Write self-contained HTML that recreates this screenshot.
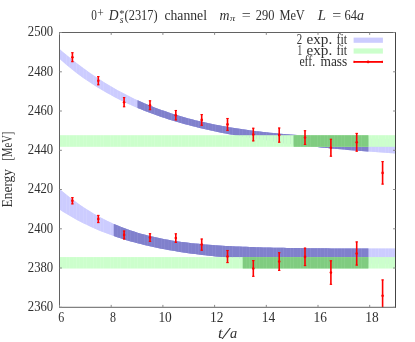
<!DOCTYPE html>
<html><head><meta charset="utf-8"><title>plot</title>
<style>html,body{margin:0;padding:0;background:#fff}svg{display:block}
text{font-family:"Liberation Serif",serif}</style></head>
<body><svg width="415" height="342" viewBox="0 0 415 342">
<rect width="415" height="342" fill="#fff"/>
<g fill="#ccccff"><path d="M59.50,48.98 L62.89,51.89 L62.89,61.85 L59.50,58.85Z"/><path d="M62.89,51.89 L66.29,54.74 L66.29,64.75 L62.89,61.85Z"/><path d="M66.29,54.74 L69.68,57.53 L69.68,67.56 L66.29,64.75Z"/><path d="M69.68,57.53 L73.08,60.25 L73.08,70.28 L69.68,67.56Z"/><path d="M73.08,60.25 L76.47,62.91 L76.47,72.90 L73.08,70.28Z"/><path d="M76.47,62.91 L79.86,65.51 L79.86,75.44 L76.47,72.90Z"/><path d="M79.86,65.51 L83.26,68.04 L83.26,77.90 L79.86,75.44Z"/><path d="M83.26,68.04 L86.65,70.51 L86.65,80.27 L83.26,77.90Z"/><path d="M86.65,70.51 L90.05,72.91 L90.05,82.57 L86.65,80.27Z"/><path d="M90.05,72.91 L93.44,75.25 L93.44,84.79 L90.05,82.57Z"/><path d="M93.44,75.25 L96.83,77.53 L96.83,86.94 L93.44,84.79Z"/><path d="M96.83,77.53 L100.23,79.75 L100.23,89.02 L96.83,86.94Z"/><path d="M100.23,79.75 L103.62,81.90 L103.62,91.04 L100.23,89.02Z"/><path d="M103.62,81.90 L107.02,83.99 L107.02,92.98 L103.62,91.04Z"/><path d="M107.02,83.99 L110.41,86.03 L110.41,94.87 L107.02,92.98Z"/><path d="M110.41,86.03 L113.80,88.00 L113.80,96.69 L110.41,94.87Z"/><path d="M113.80,88.00 L117.20,89.91 L117.20,98.46 L113.80,96.69Z"/><path d="M117.20,89.91 L120.59,91.77 L120.59,100.17 L117.20,98.46Z"/><path d="M120.59,91.77 L123.98,93.57 L123.98,101.82 L120.59,100.17Z"/><path d="M123.98,93.57 L127.38,95.31 L127.38,103.42 L123.98,101.82Z"/><path d="M127.38,95.31 L130.77,97.00 L130.77,104.98 L127.38,103.42Z"/><path d="M130.77,97.00 L134.17,98.64 L134.17,106.48 L130.77,104.98Z"/><path d="M134.17,98.64 L137.56,100.22 L137.56,107.93 L134.17,106.48Z"/><path d="M137.56,100.22 L140.95,101.75 L140.95,109.34 L137.56,107.93Z"/><path d="M140.95,101.75 L144.35,103.23 L144.35,110.71 L140.95,109.34Z"/><path d="M144.35,103.23 L147.74,104.66 L147.74,112.03 L144.35,110.71Z"/><path d="M147.74,104.66 L151.14,106.04 L151.14,113.31 L147.74,112.03Z"/><path d="M151.14,106.04 L154.53,107.38 L154.53,114.55 L151.14,113.31Z"/><path d="M154.53,107.38 L157.92,108.67 L157.92,115.76 L154.53,114.55Z"/><path d="M157.92,108.67 L161.32,109.91 L161.32,116.92 L157.92,115.76Z"/><path d="M161.32,109.91 L164.71,111.12 L164.71,118.05 L161.32,116.92Z"/><path d="M164.71,111.12 L168.11,112.28 L168.11,119.15 L164.71,118.05Z"/><path d="M168.11,112.28 L171.50,113.39 L171.50,120.22 L168.11,119.15Z"/><path d="M171.50,113.39 L174.89,114.47 L174.89,121.25 L171.50,120.22Z"/><path d="M174.89,114.47 L178.29,115.51 L178.29,122.25 L174.89,121.25Z"/><path d="M178.29,115.51 L181.68,116.52 L181.68,123.22 L178.29,122.25Z"/><path d="M181.68,116.52 L185.08,117.48 L185.08,124.16 L181.68,123.22Z"/><path d="M185.08,117.48 L188.47,118.41 L188.47,125.08 L185.08,124.16Z"/><path d="M188.47,118.41 L191.86,119.31 L191.86,125.96 L188.47,125.08Z"/><path d="M191.86,119.31 L195.26,120.17 L195.26,126.83 L191.86,125.96Z"/><path d="M195.26,120.17 L198.65,121.00 L198.65,127.66 L195.26,126.83Z"/><path d="M198.65,121.00 L202.05,121.80 L202.05,128.48 L198.65,127.66Z"/><path d="M202.05,121.80 L205.44,122.57 L205.44,129.26 L202.05,128.48Z"/><path d="M205.44,122.57 L208.83,123.31 L208.83,130.03 L205.44,129.26Z"/><path d="M208.83,123.31 L212.23,124.03 L212.23,130.78 L208.83,130.03Z"/><path d="M212.23,124.03 L215.62,124.71 L215.62,131.50 L212.23,130.78Z"/><path d="M215.62,124.71 L219.02,125.37 L219.02,132.21 L215.62,131.50Z"/><path d="M219.02,125.37 L222.41,126.01 L222.41,132.89 L219.02,132.21Z"/><path d="M222.41,126.01 L225.80,126.62 L225.80,133.56 L222.41,132.89Z"/><path d="M225.80,126.62 L229.20,127.20 L229.20,134.20 L225.80,133.56Z"/><path d="M229.20,127.20 L232.59,127.77 L232.59,134.83 L229.20,134.20Z"/><path d="M232.59,127.77 L235.98,128.31 L235.98,135.45 L232.59,134.83Z"/><path d="M235.98,128.31 L239.38,128.83 L239.38,136.05 L235.98,135.45Z"/><path d="M239.38,128.83 L242.77,129.33 L242.77,136.63 L239.38,136.05Z"/><path d="M242.77,129.33 L246.17,129.81 L246.17,137.19 L242.77,136.63Z"/><path d="M246.17,129.81 L249.56,130.27 L249.56,137.74 L246.17,137.19Z"/><path d="M249.56,130.27 L252.95,130.71 L252.95,138.28 L249.56,137.74Z"/><path d="M252.95,130.71 L256.35,131.14 L256.35,138.81 L252.95,138.28Z"/><path d="M256.35,131.14 L259.74,131.55 L259.74,139.32 L256.35,138.81Z"/><path d="M259.74,131.55 L263.14,131.94 L263.14,139.81 L259.74,139.32Z"/><path d="M263.14,131.94 L266.53,132.32 L266.53,140.30 L263.14,139.81Z"/><path d="M266.53,132.32 L269.92,132.68 L269.92,140.77 L266.53,140.30Z"/><path d="M269.92,132.68 L273.32,133.02 L273.32,141.24 L269.92,140.77Z"/><path d="M273.32,133.02 L276.71,133.36 L276.71,142.39 L273.32,141.24Z"/><path d="M276.71,133.36 L280.11,133.68 L280.11,142.83 L276.71,142.39Z"/><path d="M280.11,133.68 L283.50,133.98 L283.50,143.26 L280.11,142.83Z"/><path d="M283.50,133.98 L286.89,134.28 L286.89,143.68 L283.50,143.26Z"/><path d="M286.89,134.28 L290.29,134.56 L290.29,144.09 L286.89,143.68Z"/><path d="M290.29,134.56 L293.68,134.83 L293.68,144.49 L290.29,144.09Z"/><path d="M293.68,134.83 L297.08,135.09 L297.08,144.88 L293.68,144.49Z"/><path d="M297.08,135.09 L300.47,135.34 L300.47,145.27 L297.08,144.88Z"/><path d="M300.47,135.34 L303.86,135.58 L303.86,145.64 L300.47,145.27Z"/><path d="M303.86,135.58 L307.26,135.81 L307.26,146.01 L303.86,145.64Z"/><path d="M307.26,135.81 L310.65,136.03 L310.65,146.37 L307.26,146.01Z"/><path d="M310.65,136.03 L314.05,136.24 L314.05,146.72 L310.65,146.37Z"/><path d="M314.05,136.24 L317.44,136.45 L317.44,147.07 L314.05,146.72Z"/><path d="M317.44,136.45 L320.83,136.64 L320.83,147.41 L317.44,147.07Z"/><path d="M320.83,136.64 L324.23,136.83 L324.23,147.74 L320.83,147.41Z"/><path d="M324.23,136.83 L327.62,137.01 L327.62,148.06 L324.23,147.74Z"/><path d="M327.62,137.01 L331.02,137.18 L331.02,148.38 L327.62,148.06Z"/><path d="M331.02,137.18 L334.41,137.34 L334.41,148.70 L331.02,148.38Z"/><path d="M334.41,137.34 L337.80,137.50 L337.80,149.00 L334.41,148.70Z"/><path d="M337.80,137.50 L341.20,137.65 L341.20,149.31 L337.80,149.00Z"/><path d="M341.20,137.65 L344.59,137.80 L344.59,149.60 L341.20,149.31Z"/><path d="M344.59,137.80 L347.98,137.93 L347.98,149.89 L344.59,149.60Z"/><path d="M347.98,137.93 L351.38,138.07 L351.38,150.18 L347.98,149.89Z"/><path d="M351.38,138.07 L354.77,138.20 L354.77,150.46 L351.38,150.18Z"/><path d="M354.77,138.20 L358.17,138.32 L358.17,150.73 L354.77,150.46Z"/><path d="M358.17,138.32 L361.56,138.44 L361.56,151.01 L358.17,150.73Z"/><path d="M361.56,138.44 L364.95,138.55 L364.95,151.27 L361.56,151.01Z"/><path d="M364.95,138.55 L368.35,138.66 L368.35,151.54 L364.95,151.27Z"/><path d="M368.35,138.66 L371.74,138.76 L371.74,151.80 L368.35,151.54Z"/><path d="M371.74,138.76 L375.14,138.86 L375.14,152.05 L371.74,151.80Z"/><path d="M375.14,138.86 L378.53,138.95 L378.53,152.30 L375.14,152.05Z"/><path d="M378.53,138.95 L381.92,139.04 L381.92,152.55 L378.53,152.30Z"/><path d="M381.92,139.04 L385.32,139.13 L385.32,152.79 L381.92,152.55Z"/><path d="M385.32,139.13 L388.71,139.22 L388.71,153.03 L385.32,152.79Z"/><path d="M388.71,139.22 L392.11,139.30 L392.11,153.27 L388.71,153.03Z"/><path d="M392.11,139.30 L395.50,139.37 L395.50,153.50 L392.11,153.27Z"/></g>
<path d="M59.50,48.98 L62.89,51.89 L66.29,54.74 L69.68,57.53 L73.08,60.25 L76.47,62.91 L79.86,65.51 L83.26,68.04 L86.65,70.51 L90.05,72.91 L93.44,75.25 L96.83,77.53 L100.23,79.75 L103.62,81.90 L107.02,83.99 L110.41,86.03 L113.80,88.00 L117.20,89.91 L120.59,91.77 L123.98,93.57 L127.38,95.31 L130.77,97.00 L134.17,98.64 L137.56,100.22 L140.95,101.75 L144.35,103.23 L147.74,104.66 L151.14,106.04 L154.53,107.38 L157.92,108.67 L161.32,109.91 L164.71,111.12 L168.11,112.28 L171.50,113.39 L174.89,114.47 L178.29,115.51 L181.68,116.52 L185.08,117.48 L188.47,118.41 L191.86,119.31 L195.26,120.17 L198.65,121.00 L202.05,121.80 L205.44,122.57 L208.83,123.31 L212.23,124.03 L215.62,124.71 L219.02,125.37 L222.41,126.01 L225.80,126.62 L229.20,127.20 L232.59,127.77 L235.98,128.31 L239.38,128.83 L242.77,129.33 L246.17,129.81 L249.56,130.27 L252.95,130.71 L256.35,131.14 L259.74,131.55 L263.14,131.94 L266.53,132.32 L269.92,132.68 L273.32,133.02 L276.71,133.36 L280.11,133.68 L283.50,133.98 L286.89,134.28 L290.29,134.56 L293.68,134.83 L297.08,135.09 L300.47,135.34 L303.86,135.58 L307.26,135.81 L310.65,136.03 L314.05,136.24 L317.44,136.45 L320.83,136.64 L324.23,136.83 L327.62,137.01 L331.02,137.18 L334.41,137.34 L337.80,137.50 L341.20,137.65 L344.59,137.80 L347.98,137.93 L351.38,138.07 L354.77,138.20 L358.17,138.32 L361.56,138.44 L364.95,138.55 L368.35,138.66 L371.74,138.76 L375.14,138.86 L378.53,138.95 L381.92,139.04 L385.32,139.13 L388.71,139.22 L392.11,139.30 L395.50,139.37 L395.50,153.50 L392.11,153.27 L388.71,153.03 L385.32,152.79 L381.92,152.55 L378.53,152.30 L375.14,152.05 L371.74,151.80 L368.35,151.54 L364.95,151.27 L361.56,151.01 L358.17,150.73 L354.77,150.46 L351.38,150.18 L347.98,149.89 L344.59,149.60 L341.20,149.31 L337.80,149.00 L334.41,148.70 L331.02,148.38 L327.62,148.06 L324.23,147.74 L320.83,147.41 L317.44,147.07 L314.05,146.72 L310.65,146.37 L307.26,146.01 L303.86,145.64 L300.47,145.27 L297.08,144.88 L293.68,144.49 L290.29,144.09 L286.89,143.68 L283.50,143.26 L280.11,142.83 L276.71,142.39 L273.32,141.24 L269.92,140.77 L266.53,140.30 L263.14,139.81 L259.74,139.32 L256.35,138.81 L252.95,138.28 L249.56,137.74 L246.17,137.19 L242.77,136.63 L239.38,136.05 L235.98,135.45 L232.59,134.83 L229.20,134.20 L225.80,133.56 L222.41,132.89 L219.02,132.21 L215.62,131.50 L212.23,130.78 L208.83,130.03 L205.44,129.26 L202.05,128.48 L198.65,127.66 L195.26,126.83 L191.86,125.96 L188.47,125.08 L185.08,124.16 L181.68,123.22 L178.29,122.25 L174.89,121.25 L171.50,120.22 L168.11,119.15 L164.71,118.05 L161.32,116.92 L157.92,115.76 L154.53,114.55 L151.14,113.31 L147.74,112.03 L144.35,110.71 L140.95,109.34 L137.56,107.93 L134.17,106.48 L130.77,104.98 L127.38,103.42 L123.98,101.82 L120.59,100.17 L117.20,98.46 L113.80,96.69 L110.41,94.87 L107.02,92.98 L103.62,91.04 L100.23,89.02 L96.83,86.94 L93.44,84.79 L90.05,82.57 L86.65,80.27 L83.26,77.90 L79.86,75.44 L76.47,72.90 L73.08,70.28 L69.68,67.56 L66.29,64.75 L62.89,61.85 L59.50,58.85 Z" fill="#ccccff" fill-opacity="0.55"/>
<g fill="#8080cc"><path d="M137.56,100.22 L140.95,101.75 L140.95,109.34 L137.56,107.93Z"/><path d="M140.95,101.75 L144.35,103.23 L144.35,110.71 L140.95,109.34Z"/><path d="M144.35,103.23 L147.74,104.66 L147.74,112.03 L144.35,110.71Z"/><path d="M147.74,104.66 L151.14,106.04 L151.14,113.31 L147.74,112.03Z"/><path d="M151.14,106.04 L154.53,107.38 L154.53,114.55 L151.14,113.31Z"/><path d="M154.53,107.38 L157.92,108.67 L157.92,115.76 L154.53,114.55Z"/><path d="M157.92,108.67 L161.32,109.91 L161.32,116.92 L157.92,115.76Z"/><path d="M161.32,109.91 L164.71,111.12 L164.71,118.05 L161.32,116.92Z"/><path d="M164.71,111.12 L168.11,112.28 L168.11,119.15 L164.71,118.05Z"/><path d="M168.11,112.28 L171.50,113.39 L171.50,120.22 L168.11,119.15Z"/><path d="M171.50,113.39 L174.89,114.47 L174.89,121.25 L171.50,120.22Z"/><path d="M174.89,114.47 L178.29,115.51 L178.29,122.25 L174.89,121.25Z"/><path d="M178.29,115.51 L181.68,116.52 L181.68,123.22 L178.29,122.25Z"/><path d="M181.68,116.52 L185.08,117.48 L185.08,124.16 L181.68,123.22Z"/><path d="M185.08,117.48 L188.47,118.41 L188.47,125.08 L185.08,124.16Z"/><path d="M188.47,118.41 L191.86,119.31 L191.86,125.96 L188.47,125.08Z"/><path d="M191.86,119.31 L195.26,120.17 L195.26,126.83 L191.86,125.96Z"/><path d="M195.26,120.17 L198.65,121.00 L198.65,127.66 L195.26,126.83Z"/><path d="M198.65,121.00 L202.05,121.80 L202.05,128.48 L198.65,127.66Z"/><path d="M202.05,121.80 L205.44,122.57 L205.44,129.26 L202.05,128.48Z"/><path d="M205.44,122.57 L208.83,123.31 L208.83,130.03 L205.44,129.26Z"/><path d="M208.83,123.31 L212.23,124.03 L212.23,130.78 L208.83,130.03Z"/><path d="M212.23,124.03 L215.62,124.71 L215.62,131.50 L212.23,130.78Z"/><path d="M215.62,124.71 L219.02,125.37 L219.02,132.21 L215.62,131.50Z"/><path d="M219.02,125.37 L222.41,126.01 L222.41,132.89 L219.02,132.21Z"/><path d="M222.41,126.01 L225.80,126.62 L225.80,133.56 L222.41,132.89Z"/><path d="M225.80,126.62 L229.20,127.20 L229.20,134.20 L225.80,133.56Z"/><path d="M229.20,127.20 L232.59,127.77 L232.59,134.83 L229.20,134.20Z"/><path d="M232.59,127.77 L235.98,128.31 L235.98,135.45 L232.59,134.83Z"/><path d="M235.98,128.31 L239.38,128.83 L239.38,136.05 L235.98,135.45Z"/><path d="M239.38,128.83 L242.77,129.33 L242.77,136.63 L239.38,136.05Z"/><path d="M242.77,129.33 L246.17,129.81 L246.17,137.19 L242.77,136.63Z"/><path d="M246.17,129.81 L249.56,130.27 L249.56,137.74 L246.17,137.19Z"/><path d="M249.56,130.27 L252.95,130.71 L252.95,138.28 L249.56,137.74Z"/><path d="M252.95,130.71 L256.35,131.14 L256.35,138.81 L252.95,138.28Z"/><path d="M256.35,131.14 L259.74,131.55 L259.74,139.32 L256.35,138.81Z"/><path d="M259.74,131.55 L263.14,131.94 L263.14,139.81 L259.74,139.32Z"/><path d="M263.14,131.94 L266.53,132.32 L266.53,140.30 L263.14,139.81Z"/><path d="M266.53,132.32 L269.92,132.68 L269.92,140.77 L266.53,140.30Z"/><path d="M269.92,132.68 L273.32,133.02 L273.32,141.24 L269.92,140.77Z"/><path d="M273.32,133.02 L276.71,133.36 L276.71,142.39 L273.32,141.24Z"/><path d="M276.71,133.36 L280.11,133.68 L280.11,142.83 L276.71,142.39Z"/><path d="M280.11,133.68 L283.50,133.98 L283.50,143.26 L280.11,142.83Z"/><path d="M283.50,133.98 L286.89,134.28 L286.89,143.68 L283.50,143.26Z"/><path d="M286.89,134.28 L290.29,134.56 L290.29,144.09 L286.89,143.68Z"/><path d="M290.29,134.56 L293.68,134.83 L293.68,144.49 L290.29,144.09Z"/><path d="M293.68,134.83 L297.08,135.09 L297.08,144.88 L293.68,144.49Z"/><path d="M297.08,135.09 L300.47,135.34 L300.47,145.27 L297.08,144.88Z"/><path d="M300.47,135.34 L303.86,135.58 L303.86,145.64 L300.47,145.27Z"/><path d="M303.86,135.58 L307.26,135.81 L307.26,146.01 L303.86,145.64Z"/><path d="M307.26,135.81 L310.65,136.03 L310.65,146.37 L307.26,146.01Z"/><path d="M310.65,136.03 L314.05,136.24 L314.05,146.72 L310.65,146.37Z"/><path d="M314.05,136.24 L317.44,136.45 L317.44,147.07 L314.05,146.72Z"/><path d="M317.44,136.45 L320.83,136.64 L320.83,147.41 L317.44,147.07Z"/><path d="M320.83,136.64 L324.23,136.83 L324.23,147.74 L320.83,147.41Z"/><path d="M324.23,136.83 L327.62,137.01 L327.62,148.06 L324.23,147.74Z"/><path d="M327.62,137.01 L331.02,137.18 L331.02,148.38 L327.62,148.06Z"/><path d="M331.02,137.18 L334.41,137.34 L334.41,148.70 L331.02,148.38Z"/><path d="M334.41,137.34 L337.80,137.50 L337.80,149.00 L334.41,148.70Z"/><path d="M337.80,137.50 L341.20,137.65 L341.20,149.31 L337.80,149.00Z"/><path d="M341.20,137.65 L344.59,137.80 L344.59,149.60 L341.20,149.31Z"/><path d="M344.59,137.80 L347.98,137.93 L347.98,149.89 L344.59,149.60Z"/><path d="M347.98,137.93 L351.38,138.07 L351.38,150.18 L347.98,149.89Z"/><path d="M351.38,138.07 L354.77,138.20 L354.77,150.46 L351.38,150.18Z"/><path d="M354.77,138.20 L358.17,138.32 L358.17,150.73 L354.77,150.46Z"/><path d="M358.17,138.32 L361.56,138.44 L361.56,151.01 L358.17,150.73Z"/><path d="M361.56,138.44 L364.95,138.55 L364.95,151.27 L361.56,151.01Z"/><path d="M364.95,138.55 L368.35,138.66 L368.35,151.54 L364.95,151.27Z"/></g>
<path d="M137.56,100.22 L140.95,101.75 L144.35,103.23 L147.74,104.66 L151.14,106.04 L154.53,107.38 L157.92,108.67 L161.32,109.91 L164.71,111.12 L168.11,112.28 L171.50,113.39 L174.89,114.47 L178.29,115.51 L181.68,116.52 L185.08,117.48 L188.47,118.41 L191.86,119.31 L195.26,120.17 L198.65,121.00 L202.05,121.80 L205.44,122.57 L208.83,123.31 L212.23,124.03 L215.62,124.71 L219.02,125.37 L222.41,126.01 L225.80,126.62 L229.20,127.20 L232.59,127.77 L235.98,128.31 L239.38,128.83 L242.77,129.33 L246.17,129.81 L249.56,130.27 L252.95,130.71 L256.35,131.14 L259.74,131.55 L263.14,131.94 L266.53,132.32 L269.92,132.68 L273.32,133.02 L276.71,133.36 L280.11,133.68 L283.50,133.98 L286.89,134.28 L290.29,134.56 L293.68,134.83 L297.08,135.09 L300.47,135.34 L303.86,135.58 L307.26,135.81 L310.65,136.03 L314.05,136.24 L317.44,136.45 L320.83,136.64 L324.23,136.83 L327.62,137.01 L331.02,137.18 L334.41,137.34 L337.80,137.50 L341.20,137.65 L344.59,137.80 L347.98,137.93 L351.38,138.07 L354.77,138.20 L358.17,138.32 L361.56,138.44 L364.95,138.55 L368.35,138.66 L368.35,151.54 L364.95,151.27 L361.56,151.01 L358.17,150.73 L354.77,150.46 L351.38,150.18 L347.98,149.89 L344.59,149.60 L341.20,149.31 L337.80,149.00 L334.41,148.70 L331.02,148.38 L327.62,148.06 L324.23,147.74 L320.83,147.41 L317.44,147.07 L314.05,146.72 L310.65,146.37 L307.26,146.01 L303.86,145.64 L300.47,145.27 L297.08,144.88 L293.68,144.49 L290.29,144.09 L286.89,143.68 L283.50,143.26 L280.11,142.83 L276.71,142.39 L273.32,141.24 L269.92,140.77 L266.53,140.30 L263.14,139.81 L259.74,139.32 L256.35,138.81 L252.95,138.28 L249.56,137.74 L246.17,137.19 L242.77,136.63 L239.38,136.05 L235.98,135.45 L232.59,134.83 L229.20,134.20 L225.80,133.56 L222.41,132.89 L219.02,132.21 L215.62,131.50 L212.23,130.78 L208.83,130.03 L205.44,129.26 L202.05,128.48 L198.65,127.66 L195.26,126.83 L191.86,125.96 L188.47,125.08 L185.08,124.16 L181.68,123.22 L178.29,122.25 L174.89,121.25 L171.50,120.22 L168.11,119.15 L164.71,118.05 L161.32,116.92 L157.92,115.76 L154.53,114.55 L151.14,113.31 L147.74,112.03 L144.35,110.71 L140.95,109.34 L137.56,107.93 Z" fill="#8080cc" fill-opacity="0.55"/>
<g fill="#ccccff"><path d="M59.50,189.03 L62.89,191.84 L62.89,211.68 L59.50,209.48Z"/><path d="M62.89,191.84 L66.29,194.57 L66.29,213.80 L62.89,211.68Z"/><path d="M66.29,194.57 L69.68,197.22 L69.68,215.83 L66.29,213.80Z"/><path d="M69.68,197.22 L73.08,199.79 L73.08,217.79 L69.68,215.83Z"/><path d="M73.08,199.79 L76.47,202.27 L76.47,219.66 L73.08,217.79Z"/><path d="M76.47,202.27 L79.86,204.67 L79.86,221.47 L76.47,219.66Z"/><path d="M79.86,204.67 L83.26,206.98 L83.26,223.20 L79.86,221.47Z"/><path d="M83.26,206.98 L86.65,209.21 L86.65,224.87 L83.26,223.20Z"/><path d="M86.65,209.21 L90.05,211.34 L90.05,226.47 L86.65,224.87Z"/><path d="M90.05,211.34 L93.44,213.39 L93.44,228.01 L90.05,226.47Z"/><path d="M93.44,213.39 L96.83,215.35 L96.83,229.49 L93.44,228.01Z"/><path d="M96.83,215.35 L100.23,217.22 L100.23,230.91 L96.83,229.49Z"/><path d="M100.23,217.22 L103.62,219.01 L103.62,232.27 L100.23,230.91Z"/><path d="M103.62,219.01 L107.02,220.72 L107.02,233.58 L103.62,232.27Z"/><path d="M107.02,220.72 L110.41,222.34 L110.41,234.84 L107.02,233.58Z"/><path d="M110.41,222.34 L113.80,223.89 L113.80,236.05 L110.41,234.84Z"/><path d="M113.80,223.89 L117.20,225.35 L117.20,237.20 L113.80,236.05Z"/><path d="M117.20,225.35 L120.59,226.75 L120.59,238.32 L117.20,237.20Z"/><path d="M120.59,226.75 L123.98,228.06 L123.98,239.39 L120.59,238.32Z"/><path d="M123.98,228.06 L127.38,229.31 L127.38,240.41 L123.98,239.39Z"/><path d="M127.38,229.31 L130.77,230.50 L130.77,241.40 L127.38,240.41Z"/><path d="M130.77,230.50 L134.17,231.61 L134.17,242.34 L130.77,241.40Z"/><path d="M134.17,231.61 L137.56,232.67 L137.56,243.25 L134.17,242.34Z"/><path d="M137.56,232.67 L140.95,233.67 L140.95,244.12 L137.56,243.25Z"/><path d="M140.95,233.67 L144.35,234.61 L144.35,244.95 L140.95,244.12Z"/><path d="M144.35,234.61 L147.74,235.49 L147.74,245.76 L144.35,244.95Z"/><path d="M147.74,235.49 L151.14,236.32 L151.14,246.53 L147.74,245.76Z"/><path d="M151.14,236.32 L154.53,237.11 L154.53,247.26 L151.14,246.53Z"/><path d="M154.53,237.11 L157.92,237.85 L157.92,247.97 L154.53,247.26Z"/><path d="M157.92,237.85 L161.32,238.54 L161.32,248.65 L157.92,247.97Z"/><path d="M161.32,238.54 L164.71,239.19 L164.71,249.31 L161.32,248.65Z"/><path d="M164.71,239.19 L168.11,239.80 L168.11,249.93 L164.71,249.31Z"/><path d="M168.11,239.80 L171.50,240.38 L171.50,250.53 L168.11,249.93Z"/><path d="M171.50,240.38 L174.89,240.92 L174.89,251.11 L171.50,250.53Z"/><path d="M174.89,240.92 L178.29,241.42 L178.29,251.66 L174.89,251.11Z"/><path d="M178.29,241.42 L181.68,241.90 L181.68,252.19 L178.29,251.66Z"/><path d="M181.68,241.90 L185.08,242.34 L185.08,252.70 L181.68,252.19Z"/><path d="M185.08,242.34 L188.47,242.76 L188.47,253.19 L185.08,252.70Z"/><path d="M188.47,242.76 L191.86,243.15 L191.86,253.66 L188.47,253.19Z"/><path d="M191.86,243.15 L195.26,243.51 L195.26,254.11 L191.86,253.66Z"/><path d="M195.26,243.51 L198.65,243.85 L198.65,254.54 L195.26,254.11Z"/><path d="M198.65,243.85 L202.05,244.17 L202.05,254.95 L198.65,254.54Z"/><path d="M202.05,244.17 L205.44,244.47 L205.44,255.35 L202.05,254.95Z"/><path d="M205.44,244.47 L208.83,244.75 L208.83,255.73 L205.44,255.35Z"/><path d="M208.83,244.75 L212.23,245.01 L212.23,256.09 L208.83,255.73Z"/><path d="M212.23,245.01 L215.62,245.26 L215.62,256.44 L212.23,256.09Z"/><path d="M215.62,245.26 L219.02,245.49 L219.02,256.78 L215.62,256.44Z"/><path d="M219.02,245.49 L222.41,245.70 L222.41,257.10 L219.02,256.78Z"/><path d="M222.41,245.70 L225.80,245.90 L225.80,257.41 L222.41,257.10Z"/><path d="M225.80,245.90 L229.20,246.09 L229.20,257.70 L225.80,257.41Z"/><path d="M229.20,246.09 L232.59,246.26 L232.59,257.99 L229.20,257.70Z"/><path d="M232.59,246.26 L235.98,246.42 L235.98,258.26 L232.59,257.99Z"/><path d="M235.98,246.42 L239.38,246.58 L239.38,258.52 L235.98,258.26Z"/><path d="M239.38,246.58 L242.77,246.72 L242.77,258.77 L239.38,258.52Z"/><path d="M242.77,246.72 L246.17,246.85 L246.17,259.01 L242.77,258.77Z"/><path d="M246.17,246.85 L249.56,246.97 L249.56,259.24 L246.17,259.01Z"/><path d="M249.56,246.97 L252.95,247.09 L252.95,259.46 L249.56,259.24Z"/><path d="M252.95,247.09 L256.35,247.20 L256.35,259.67 L252.95,259.46Z"/><path d="M256.35,247.20 L259.74,247.30 L259.74,259.88 L256.35,259.67Z"/><path d="M259.74,247.30 L263.14,247.39 L263.14,260.07 L259.74,259.88Z"/><path d="M263.14,247.39 L266.53,247.48 L266.53,260.26 L263.14,260.07Z"/><path d="M266.53,247.48 L269.92,247.56 L269.92,260.44 L266.53,260.26Z"/><path d="M269.92,247.56 L273.32,247.64 L273.32,260.61 L269.92,260.44Z"/><path d="M273.32,247.64 L276.71,247.71 L276.71,260.77 L273.32,260.61Z"/><path d="M276.71,247.71 L280.11,247.78 L280.11,260.93 L276.71,260.77Z"/><path d="M280.11,247.78 L283.50,247.84 L283.50,261.08 L280.11,260.93Z"/><path d="M283.50,247.84 L286.89,247.90 L286.89,261.23 L283.50,261.08Z"/><path d="M286.89,247.90 L290.29,247.95 L290.29,261.37 L286.89,261.23Z"/><path d="M290.29,247.95 L293.68,248.00 L293.68,261.50 L290.29,261.37Z"/><path d="M293.68,248.00 L297.08,248.05 L297.08,261.63 L293.68,261.50Z"/><path d="M297.08,248.05 L300.47,248.09 L300.47,261.75 L297.08,261.63Z"/><path d="M300.47,248.09 L303.86,248.13 L303.86,261.87 L300.47,261.75Z"/><path d="M303.86,248.13 L307.26,248.17 L307.26,261.98 L303.86,261.87Z"/><path d="M307.26,248.17 L310.65,248.21 L310.65,262.09 L307.26,261.98Z"/><path d="M310.65,248.21 L314.05,248.24 L314.05,262.20 L310.65,262.09Z"/><path d="M314.05,248.24 L317.44,248.27 L317.44,262.29 L314.05,262.20Z"/><path d="M317.44,248.27 L320.83,248.30 L320.83,262.39 L317.44,262.29Z"/><path d="M320.83,248.30 L324.23,248.33 L324.23,262.48 L320.83,262.39Z"/><path d="M324.23,248.33 L327.62,248.35 L327.62,262.57 L324.23,262.48Z"/><path d="M327.62,248.35 L331.02,248.38 L331.02,262.65 L327.62,262.57Z"/><path d="M331.02,248.38 L334.41,248.40 L334.41,262.73 L331.02,262.65Z"/><path d="M334.41,248.40 L337.80,248.42 L337.80,262.81 L334.41,262.73Z"/><path d="M337.80,248.42 L341.20,248.44 L341.20,262.89 L337.80,262.81Z"/><path d="M341.20,248.44 L344.59,248.45 L344.59,262.96 L341.20,262.89Z"/><path d="M344.59,248.45 L347.98,248.47 L347.98,263.02 L344.59,262.96Z"/><path d="M347.98,248.47 L351.38,248.49 L351.38,263.09 L347.98,263.02Z"/><path d="M351.38,248.49 L354.77,248.50 L354.77,263.15 L351.38,263.09Z"/><path d="M354.77,248.50 L358.17,248.51 L358.17,263.21 L354.77,263.15Z"/><path d="M358.17,248.51 L361.56,248.53 L361.56,263.27 L358.17,263.21Z"/><path d="M361.56,248.53 L364.95,248.54 L364.95,263.32 L361.56,263.27Z"/><path d="M364.95,248.54 L368.35,248.55 L368.35,263.38 L364.95,263.32Z"/><path d="M368.35,248.55 L371.74,248.56 L371.74,263.43 L368.35,263.38Z"/><path d="M371.74,248.56 L375.14,248.57 L375.14,263.48 L371.74,263.43Z"/><path d="M375.14,248.57 L378.53,248.58 L378.53,263.52 L375.14,263.48Z"/><path d="M378.53,248.58 L381.92,248.59 L381.92,263.57 L378.53,263.52Z"/><path d="M381.92,248.59 L385.32,248.59 L385.32,263.61 L381.92,263.57Z"/><path d="M385.32,248.59 L388.71,248.60 L388.71,263.65 L385.32,263.61Z"/><path d="M388.71,248.60 L392.11,248.61 L392.11,263.69 L388.71,263.65Z"/><path d="M392.11,248.61 L395.50,248.61 L395.50,263.73 L392.11,263.69Z"/></g>
<path d="M59.50,189.03 L62.89,191.84 L66.29,194.57 L69.68,197.22 L73.08,199.79 L76.47,202.27 L79.86,204.67 L83.26,206.98 L86.65,209.21 L90.05,211.34 L93.44,213.39 L96.83,215.35 L100.23,217.22 L103.62,219.01 L107.02,220.72 L110.41,222.34 L113.80,223.89 L117.20,225.35 L120.59,226.75 L123.98,228.06 L127.38,229.31 L130.77,230.50 L134.17,231.61 L137.56,232.67 L140.95,233.67 L144.35,234.61 L147.74,235.49 L151.14,236.32 L154.53,237.11 L157.92,237.85 L161.32,238.54 L164.71,239.19 L168.11,239.80 L171.50,240.38 L174.89,240.92 L178.29,241.42 L181.68,241.90 L185.08,242.34 L188.47,242.76 L191.86,243.15 L195.26,243.51 L198.65,243.85 L202.05,244.17 L205.44,244.47 L208.83,244.75 L212.23,245.01 L215.62,245.26 L219.02,245.49 L222.41,245.70 L225.80,245.90 L229.20,246.09 L232.59,246.26 L235.98,246.42 L239.38,246.58 L242.77,246.72 L246.17,246.85 L249.56,246.97 L252.95,247.09 L256.35,247.20 L259.74,247.30 L263.14,247.39 L266.53,247.48 L269.92,247.56 L273.32,247.64 L276.71,247.71 L280.11,247.78 L283.50,247.84 L286.89,247.90 L290.29,247.95 L293.68,248.00 L297.08,248.05 L300.47,248.09 L303.86,248.13 L307.26,248.17 L310.65,248.21 L314.05,248.24 L317.44,248.27 L320.83,248.30 L324.23,248.33 L327.62,248.35 L331.02,248.38 L334.41,248.40 L337.80,248.42 L341.20,248.44 L344.59,248.45 L347.98,248.47 L351.38,248.49 L354.77,248.50 L358.17,248.51 L361.56,248.53 L364.95,248.54 L368.35,248.55 L371.74,248.56 L375.14,248.57 L378.53,248.58 L381.92,248.59 L385.32,248.59 L388.71,248.60 L392.11,248.61 L395.50,248.61 L395.50,263.73 L392.11,263.69 L388.71,263.65 L385.32,263.61 L381.92,263.57 L378.53,263.52 L375.14,263.48 L371.74,263.43 L368.35,263.38 L364.95,263.32 L361.56,263.27 L358.17,263.21 L354.77,263.15 L351.38,263.09 L347.98,263.02 L344.59,262.96 L341.20,262.89 L337.80,262.81 L334.41,262.73 L331.02,262.65 L327.62,262.57 L324.23,262.48 L320.83,262.39 L317.44,262.29 L314.05,262.20 L310.65,262.09 L307.26,261.98 L303.86,261.87 L300.47,261.75 L297.08,261.63 L293.68,261.50 L290.29,261.37 L286.89,261.23 L283.50,261.08 L280.11,260.93 L276.71,260.77 L273.32,260.61 L269.92,260.44 L266.53,260.26 L263.14,260.07 L259.74,259.88 L256.35,259.67 L252.95,259.46 L249.56,259.24 L246.17,259.01 L242.77,258.77 L239.38,258.52 L235.98,258.26 L232.59,257.99 L229.20,257.70 L225.80,257.41 L222.41,257.10 L219.02,256.78 L215.62,256.44 L212.23,256.09 L208.83,255.73 L205.44,255.35 L202.05,254.95 L198.65,254.54 L195.26,254.11 L191.86,253.66 L188.47,253.19 L185.08,252.70 L181.68,252.19 L178.29,251.66 L174.89,251.11 L171.50,250.53 L168.11,249.93 L164.71,249.31 L161.32,248.65 L157.92,247.97 L154.53,247.26 L151.14,246.53 L147.74,245.76 L144.35,244.95 L140.95,244.12 L137.56,243.25 L134.17,242.34 L130.77,241.40 L127.38,240.41 L123.98,239.39 L120.59,238.32 L117.20,237.20 L113.80,236.05 L110.41,234.84 L107.02,233.58 L103.62,232.27 L100.23,230.91 L96.83,229.49 L93.44,228.01 L90.05,226.47 L86.65,224.87 L83.26,223.20 L79.86,221.47 L76.47,219.66 L73.08,217.79 L69.68,215.83 L66.29,213.80 L62.89,211.68 L59.50,209.48 Z" fill="#ccccff" fill-opacity="0.55"/>
<g fill="#8080cc"><path d="M113.80,223.89 L117.20,225.35 L117.20,237.20 L113.80,236.05Z"/><path d="M117.20,225.35 L120.59,226.75 L120.59,238.32 L117.20,237.20Z"/><path d="M120.59,226.75 L123.98,228.06 L123.98,239.39 L120.59,238.32Z"/><path d="M123.98,228.06 L127.38,229.31 L127.38,240.41 L123.98,239.39Z"/><path d="M127.38,229.31 L130.77,230.50 L130.77,241.40 L127.38,240.41Z"/><path d="M130.77,230.50 L134.17,231.61 L134.17,242.34 L130.77,241.40Z"/><path d="M134.17,231.61 L137.56,232.67 L137.56,243.25 L134.17,242.34Z"/><path d="M137.56,232.67 L140.95,233.67 L140.95,244.12 L137.56,243.25Z"/><path d="M140.95,233.67 L144.35,234.61 L144.35,244.95 L140.95,244.12Z"/><path d="M144.35,234.61 L147.74,235.49 L147.74,245.76 L144.35,244.95Z"/><path d="M147.74,235.49 L151.14,236.32 L151.14,246.53 L147.74,245.76Z"/><path d="M151.14,236.32 L154.53,237.11 L154.53,247.26 L151.14,246.53Z"/><path d="M154.53,237.11 L157.92,237.85 L157.92,247.97 L154.53,247.26Z"/><path d="M157.92,237.85 L161.32,238.54 L161.32,248.65 L157.92,247.97Z"/><path d="M161.32,238.54 L164.71,239.19 L164.71,249.31 L161.32,248.65Z"/><path d="M164.71,239.19 L168.11,239.80 L168.11,249.93 L164.71,249.31Z"/><path d="M168.11,239.80 L171.50,240.38 L171.50,250.53 L168.11,249.93Z"/><path d="M171.50,240.38 L174.89,240.92 L174.89,251.11 L171.50,250.53Z"/><path d="M174.89,240.92 L178.29,241.42 L178.29,251.66 L174.89,251.11Z"/><path d="M178.29,241.42 L181.68,241.90 L181.68,252.19 L178.29,251.66Z"/><path d="M181.68,241.90 L185.08,242.34 L185.08,252.70 L181.68,252.19Z"/><path d="M185.08,242.34 L188.47,242.76 L188.47,253.19 L185.08,252.70Z"/><path d="M188.47,242.76 L191.86,243.15 L191.86,253.66 L188.47,253.19Z"/><path d="M191.86,243.15 L195.26,243.51 L195.26,254.11 L191.86,253.66Z"/><path d="M195.26,243.51 L198.65,243.85 L198.65,254.54 L195.26,254.11Z"/><path d="M198.65,243.85 L202.05,244.17 L202.05,254.95 L198.65,254.54Z"/><path d="M202.05,244.17 L205.44,244.47 L205.44,255.35 L202.05,254.95Z"/><path d="M205.44,244.47 L208.83,244.75 L208.83,255.73 L205.44,255.35Z"/><path d="M208.83,244.75 L212.23,245.01 L212.23,256.09 L208.83,255.73Z"/><path d="M212.23,245.01 L215.62,245.26 L215.62,256.44 L212.23,256.09Z"/><path d="M215.62,245.26 L219.02,245.49 L219.02,256.78 L215.62,256.44Z"/><path d="M219.02,245.49 L222.41,245.70 L222.41,257.10 L219.02,256.78Z"/><path d="M222.41,245.70 L225.80,245.90 L225.80,257.41 L222.41,257.10Z"/><path d="M225.80,245.90 L229.20,246.09 L229.20,257.70 L225.80,257.41Z"/><path d="M229.20,246.09 L232.59,246.26 L232.59,257.99 L229.20,257.70Z"/><path d="M232.59,246.26 L235.98,246.42 L235.98,258.26 L232.59,257.99Z"/><path d="M235.98,246.42 L239.38,246.58 L239.38,258.52 L235.98,258.26Z"/><path d="M239.38,246.58 L242.77,246.72 L242.77,258.77 L239.38,258.52Z"/><path d="M242.77,246.72 L246.17,246.85 L246.17,259.01 L242.77,258.77Z"/><path d="M246.17,246.85 L249.56,246.97 L249.56,259.24 L246.17,259.01Z"/><path d="M249.56,246.97 L252.95,247.09 L252.95,259.46 L249.56,259.24Z"/><path d="M252.95,247.09 L256.35,247.20 L256.35,259.67 L252.95,259.46Z"/><path d="M256.35,247.20 L259.74,247.30 L259.74,259.88 L256.35,259.67Z"/><path d="M259.74,247.30 L263.14,247.39 L263.14,260.07 L259.74,259.88Z"/><path d="M263.14,247.39 L266.53,247.48 L266.53,260.26 L263.14,260.07Z"/><path d="M266.53,247.48 L269.92,247.56 L269.92,260.44 L266.53,260.26Z"/><path d="M269.92,247.56 L273.32,247.64 L273.32,260.61 L269.92,260.44Z"/><path d="M273.32,247.64 L276.71,247.71 L276.71,260.77 L273.32,260.61Z"/><path d="M276.71,247.71 L280.11,247.78 L280.11,260.93 L276.71,260.77Z"/><path d="M280.11,247.78 L283.50,247.84 L283.50,261.08 L280.11,260.93Z"/><path d="M283.50,247.84 L286.89,247.90 L286.89,261.23 L283.50,261.08Z"/><path d="M286.89,247.90 L290.29,247.95 L290.29,261.37 L286.89,261.23Z"/><path d="M290.29,247.95 L293.68,248.00 L293.68,261.50 L290.29,261.37Z"/><path d="M293.68,248.00 L297.08,248.05 L297.08,261.63 L293.68,261.50Z"/><path d="M297.08,248.05 L300.47,248.09 L300.47,261.75 L297.08,261.63Z"/><path d="M300.47,248.09 L303.86,248.13 L303.86,261.87 L300.47,261.75Z"/><path d="M303.86,248.13 L307.26,248.17 L307.26,261.98 L303.86,261.87Z"/><path d="M307.26,248.17 L310.65,248.21 L310.65,262.09 L307.26,261.98Z"/><path d="M310.65,248.21 L314.05,248.24 L314.05,262.20 L310.65,262.09Z"/><path d="M314.05,248.24 L317.44,248.27 L317.44,262.29 L314.05,262.20Z"/><path d="M317.44,248.27 L320.83,248.30 L320.83,262.39 L317.44,262.29Z"/><path d="M320.83,248.30 L324.23,248.33 L324.23,262.48 L320.83,262.39Z"/><path d="M324.23,248.33 L327.62,248.35 L327.62,262.57 L324.23,262.48Z"/><path d="M327.62,248.35 L331.02,248.38 L331.02,262.65 L327.62,262.57Z"/><path d="M331.02,248.38 L334.41,248.40 L334.41,262.73 L331.02,262.65Z"/><path d="M334.41,248.40 L337.80,248.42 L337.80,262.81 L334.41,262.73Z"/><path d="M337.80,248.42 L341.20,248.44 L341.20,262.89 L337.80,262.81Z"/><path d="M341.20,248.44 L344.59,248.45 L344.59,262.96 L341.20,262.89Z"/><path d="M344.59,248.45 L347.98,248.47 L347.98,263.02 L344.59,262.96Z"/><path d="M347.98,248.47 L351.38,248.49 L351.38,263.09 L347.98,263.02Z"/><path d="M351.38,248.49 L354.77,248.50 L354.77,263.15 L351.38,263.09Z"/><path d="M354.77,248.50 L358.17,248.51 L358.17,263.21 L354.77,263.15Z"/><path d="M358.17,248.51 L361.56,248.53 L361.56,263.27 L358.17,263.21Z"/><path d="M361.56,248.53 L364.95,248.54 L364.95,263.32 L361.56,263.27Z"/><path d="M364.95,248.54 L368.35,248.55 L368.35,263.38 L364.95,263.32Z"/></g>
<path d="M113.80,223.89 L117.20,225.35 L120.59,226.75 L123.98,228.06 L127.38,229.31 L130.77,230.50 L134.17,231.61 L137.56,232.67 L140.95,233.67 L144.35,234.61 L147.74,235.49 L151.14,236.32 L154.53,237.11 L157.92,237.85 L161.32,238.54 L164.71,239.19 L168.11,239.80 L171.50,240.38 L174.89,240.92 L178.29,241.42 L181.68,241.90 L185.08,242.34 L188.47,242.76 L191.86,243.15 L195.26,243.51 L198.65,243.85 L202.05,244.17 L205.44,244.47 L208.83,244.75 L212.23,245.01 L215.62,245.26 L219.02,245.49 L222.41,245.70 L225.80,245.90 L229.20,246.09 L232.59,246.26 L235.98,246.42 L239.38,246.58 L242.77,246.72 L246.17,246.85 L249.56,246.97 L252.95,247.09 L256.35,247.20 L259.74,247.30 L263.14,247.39 L266.53,247.48 L269.92,247.56 L273.32,247.64 L276.71,247.71 L280.11,247.78 L283.50,247.84 L286.89,247.90 L290.29,247.95 L293.68,248.00 L297.08,248.05 L300.47,248.09 L303.86,248.13 L307.26,248.17 L310.65,248.21 L314.05,248.24 L317.44,248.27 L320.83,248.30 L324.23,248.33 L327.62,248.35 L331.02,248.38 L334.41,248.40 L337.80,248.42 L341.20,248.44 L344.59,248.45 L347.98,248.47 L351.38,248.49 L354.77,248.50 L358.17,248.51 L361.56,248.53 L364.95,248.54 L368.35,248.55 L368.35,263.38 L364.95,263.32 L361.56,263.27 L358.17,263.21 L354.77,263.15 L351.38,263.09 L347.98,263.02 L344.59,262.96 L341.20,262.89 L337.80,262.81 L334.41,262.73 L331.02,262.65 L327.62,262.57 L324.23,262.48 L320.83,262.39 L317.44,262.29 L314.05,262.20 L310.65,262.09 L307.26,261.98 L303.86,261.87 L300.47,261.75 L297.08,261.63 L293.68,261.50 L290.29,261.37 L286.89,261.23 L283.50,261.08 L280.11,260.93 L276.71,260.77 L273.32,260.61 L269.92,260.44 L266.53,260.26 L263.14,260.07 L259.74,259.88 L256.35,259.67 L252.95,259.46 L249.56,259.24 L246.17,259.01 L242.77,258.77 L239.38,258.52 L235.98,258.26 L232.59,257.99 L229.20,257.70 L225.80,257.41 L222.41,257.10 L219.02,256.78 L215.62,256.44 L212.23,256.09 L208.83,255.73 L205.44,255.35 L202.05,254.95 L198.65,254.54 L195.26,254.11 L191.86,253.66 L188.47,253.19 L185.08,252.70 L181.68,252.19 L178.29,251.66 L174.89,251.11 L171.50,250.53 L168.11,249.93 L164.71,249.31 L161.32,248.65 L157.92,247.97 L154.53,247.26 L151.14,246.53 L147.74,245.76 L144.35,244.95 L140.95,244.12 L137.56,243.25 L134.17,242.34 L130.77,241.40 L127.38,240.41 L123.98,239.39 L120.59,238.32 L117.20,237.20 L113.80,236.05 Z" fill="#8080cc" fill-opacity="0.55"/>
<g fill="#ccffcc"><path d="M59.50,135.30 H62.89 V146.70 H59.50Z"/><path d="M62.89,135.30 H66.29 V146.70 H62.89Z"/><path d="M66.29,135.30 H69.68 V146.70 H66.29Z"/><path d="M69.68,135.30 H73.08 V146.70 H69.68Z"/><path d="M73.08,135.30 H76.47 V146.70 H73.08Z"/><path d="M76.47,135.30 H79.86 V146.70 H76.47Z"/><path d="M79.86,135.30 H83.26 V146.70 H79.86Z"/><path d="M83.26,135.30 H86.65 V146.70 H83.26Z"/><path d="M86.65,135.30 H90.05 V146.70 H86.65Z"/><path d="M90.05,135.30 H93.44 V146.70 H90.05Z"/><path d="M93.44,135.30 H96.83 V146.70 H93.44Z"/><path d="M96.83,135.30 H100.23 V146.70 H96.83Z"/><path d="M100.23,135.30 H103.62 V146.70 H100.23Z"/><path d="M103.62,135.30 H107.02 V146.70 H103.62Z"/><path d="M107.02,135.30 H110.41 V146.70 H107.02Z"/><path d="M110.41,135.30 H113.80 V146.70 H110.41Z"/><path d="M113.80,135.30 H117.20 V146.70 H113.80Z"/><path d="M117.20,135.30 H120.59 V146.70 H117.20Z"/><path d="M120.59,135.30 H123.98 V146.70 H120.59Z"/><path d="M123.98,135.30 H127.38 V146.70 H123.98Z"/><path d="M127.38,135.30 H130.77 V146.70 H127.38Z"/><path d="M130.77,135.30 H134.17 V146.70 H130.77Z"/><path d="M134.17,135.30 H137.56 V146.70 H134.17Z"/><path d="M137.56,135.30 H140.95 V146.70 H137.56Z"/><path d="M140.95,135.30 H144.35 V146.70 H140.95Z"/><path d="M144.35,135.30 H147.74 V146.70 H144.35Z"/><path d="M147.74,135.30 H151.14 V146.70 H147.74Z"/><path d="M151.14,135.30 H154.53 V146.70 H151.14Z"/><path d="M154.53,135.30 H157.92 V146.70 H154.53Z"/><path d="M157.92,135.30 H161.32 V146.70 H157.92Z"/><path d="M161.32,135.30 H164.71 V146.70 H161.32Z"/><path d="M164.71,135.30 H168.11 V146.70 H164.71Z"/><path d="M168.11,135.30 H171.50 V146.70 H168.11Z"/><path d="M171.50,135.30 H174.89 V146.70 H171.50Z"/><path d="M174.89,135.30 H178.29 V146.70 H174.89Z"/><path d="M178.29,135.30 H181.68 V146.70 H178.29Z"/><path d="M181.68,135.30 H185.08 V146.70 H181.68Z"/><path d="M185.08,135.30 H188.47 V146.70 H185.08Z"/><path d="M188.47,135.30 H191.86 V146.70 H188.47Z"/><path d="M191.86,135.30 H195.26 V146.70 H191.86Z"/><path d="M195.26,135.30 H198.65 V146.70 H195.26Z"/><path d="M198.65,135.30 H202.05 V146.70 H198.65Z"/><path d="M202.05,135.30 H205.44 V146.70 H202.05Z"/><path d="M205.44,135.30 H208.83 V146.70 H205.44Z"/><path d="M208.83,135.30 H212.23 V146.70 H208.83Z"/><path d="M212.23,135.30 H215.62 V146.70 H212.23Z"/><path d="M215.62,135.30 H219.02 V146.70 H215.62Z"/><path d="M219.02,135.30 H222.41 V146.70 H219.02Z"/><path d="M222.41,135.30 H225.80 V146.70 H222.41Z"/><path d="M225.80,135.30 H229.20 V146.70 H225.80Z"/><path d="M229.20,135.30 H232.59 V146.70 H229.20Z"/><path d="M232.59,135.30 H235.98 V146.70 H232.59Z"/><path d="M235.98,135.30 H239.38 V146.70 H235.98Z"/><path d="M239.38,135.30 H242.77 V146.70 H239.38Z"/><path d="M242.77,135.30 H246.17 V146.70 H242.77Z"/><path d="M246.17,135.30 H249.56 V146.70 H246.17Z"/><path d="M249.56,135.30 H252.95 V146.70 H249.56Z"/><path d="M252.95,135.30 H256.35 V146.70 H252.95Z"/><path d="M256.35,135.30 H259.74 V146.70 H256.35Z"/><path d="M259.74,135.30 H263.14 V146.70 H259.74Z"/><path d="M263.14,135.30 H266.53 V146.70 H263.14Z"/><path d="M266.53,135.30 H269.92 V146.70 H266.53Z"/><path d="M269.92,135.30 H273.32 V146.70 H269.92Z"/><path d="M273.32,135.30 H276.71 V146.70 H273.32Z"/><path d="M276.71,135.30 H280.11 V146.70 H276.71Z"/><path d="M280.11,135.30 H283.50 V146.70 H280.11Z"/><path d="M283.50,135.30 H286.89 V146.70 H283.50Z"/><path d="M286.89,135.30 H290.29 V146.70 H286.89Z"/><path d="M290.29,135.30 H293.68 V146.70 H290.29Z"/><path d="M293.68,135.30 H297.08 V146.70 H293.68Z"/><path d="M297.08,135.30 H300.47 V146.70 H297.08Z"/><path d="M300.47,135.30 H303.86 V146.70 H300.47Z"/><path d="M303.86,135.30 H307.26 V146.70 H303.86Z"/><path d="M307.26,135.30 H310.65 V146.70 H307.26Z"/><path d="M310.65,135.30 H314.05 V146.70 H310.65Z"/><path d="M314.05,135.30 H317.44 V146.70 H314.05Z"/><path d="M317.44,135.30 H320.83 V146.70 H317.44Z"/><path d="M320.83,135.30 H324.23 V146.70 H320.83Z"/><path d="M324.23,135.30 H327.62 V146.70 H324.23Z"/><path d="M327.62,135.30 H331.02 V146.70 H327.62Z"/><path d="M331.02,135.30 H334.41 V146.70 H331.02Z"/><path d="M334.41,135.30 H337.80 V146.70 H334.41Z"/><path d="M337.80,135.30 H341.20 V146.70 H337.80Z"/><path d="M341.20,135.30 H344.59 V146.70 H341.20Z"/><path d="M344.59,135.30 H347.98 V146.70 H344.59Z"/><path d="M347.98,135.30 H351.38 V146.70 H347.98Z"/><path d="M351.38,135.30 H354.77 V146.70 H351.38Z"/><path d="M354.77,135.30 H358.17 V146.70 H354.77Z"/><path d="M358.17,135.30 H361.56 V146.70 H358.17Z"/><path d="M361.56,135.30 H364.95 V146.70 H361.56Z"/><path d="M364.95,135.30 H368.35 V146.70 H364.95Z"/><path d="M368.35,135.30 H371.74 V146.70 H368.35Z"/><path d="M371.74,135.30 H375.14 V146.70 H371.74Z"/><path d="M375.14,135.30 H378.53 V146.70 H375.14Z"/><path d="M378.53,135.30 H381.92 V146.70 H378.53Z"/><path d="M381.92,135.30 H385.32 V146.70 H381.92Z"/><path d="M385.32,135.30 H388.71 V146.70 H385.32Z"/><path d="M388.71,135.30 H392.11 V146.70 H388.71Z"/><path d="M392.11,135.30 H395.50 V146.70 H392.11Z"/></g>
<rect x="59.50" y="135.30" width="336.00" height="11.40" fill="#ccffcc" fill-opacity="0.55"/>
<g fill="#80cc80"><path d="M293.68,135.30 H297.08 V146.70 H293.68Z"/><path d="M297.08,135.30 H300.47 V146.70 H297.08Z"/><path d="M300.47,135.30 H303.86 V146.70 H300.47Z"/><path d="M303.86,135.30 H307.26 V146.70 H303.86Z"/><path d="M307.26,135.30 H310.65 V146.70 H307.26Z"/><path d="M310.65,135.30 H314.05 V146.70 H310.65Z"/><path d="M314.05,135.30 H317.44 V146.70 H314.05Z"/><path d="M317.44,135.30 H320.83 V146.70 H317.44Z"/><path d="M320.83,135.30 H324.23 V146.70 H320.83Z"/><path d="M324.23,135.30 H327.62 V146.70 H324.23Z"/><path d="M327.62,135.30 H331.02 V146.70 H327.62Z"/><path d="M331.02,135.30 H334.41 V146.70 H331.02Z"/><path d="M334.41,135.30 H337.80 V146.70 H334.41Z"/><path d="M337.80,135.30 H341.20 V146.70 H337.80Z"/><path d="M341.20,135.30 H344.59 V146.70 H341.20Z"/><path d="M344.59,135.30 H347.98 V146.70 H344.59Z"/><path d="M347.98,135.30 H351.38 V146.70 H347.98Z"/><path d="M351.38,135.30 H354.77 V146.70 H351.38Z"/><path d="M354.77,135.30 H358.17 V146.70 H354.77Z"/><path d="M358.17,135.30 H361.56 V146.70 H358.17Z"/><path d="M361.56,135.30 H364.95 V146.70 H361.56Z"/><path d="M364.95,135.30 H368.35 V146.70 H364.95Z"/></g>
<rect x="293.68" y="135.30" width="74.67" height="11.40" fill="#80cc80" fill-opacity="0.55"/>
<g fill="#ccffcc"><path d="M59.50,257.10 H62.89 V268.40 H59.50Z"/><path d="M62.89,257.10 H66.29 V268.40 H62.89Z"/><path d="M66.29,257.10 H69.68 V268.40 H66.29Z"/><path d="M69.68,257.10 H73.08 V268.40 H69.68Z"/><path d="M73.08,257.10 H76.47 V268.40 H73.08Z"/><path d="M76.47,257.10 H79.86 V268.40 H76.47Z"/><path d="M79.86,257.10 H83.26 V268.40 H79.86Z"/><path d="M83.26,257.10 H86.65 V268.40 H83.26Z"/><path d="M86.65,257.10 H90.05 V268.40 H86.65Z"/><path d="M90.05,257.10 H93.44 V268.40 H90.05Z"/><path d="M93.44,257.10 H96.83 V268.40 H93.44Z"/><path d="M96.83,257.10 H100.23 V268.40 H96.83Z"/><path d="M100.23,257.10 H103.62 V268.40 H100.23Z"/><path d="M103.62,257.10 H107.02 V268.40 H103.62Z"/><path d="M107.02,257.10 H110.41 V268.40 H107.02Z"/><path d="M110.41,257.10 H113.80 V268.40 H110.41Z"/><path d="M113.80,257.10 H117.20 V268.40 H113.80Z"/><path d="M117.20,257.10 H120.59 V268.40 H117.20Z"/><path d="M120.59,257.10 H123.98 V268.40 H120.59Z"/><path d="M123.98,257.10 H127.38 V268.40 H123.98Z"/><path d="M127.38,257.10 H130.77 V268.40 H127.38Z"/><path d="M130.77,257.10 H134.17 V268.40 H130.77Z"/><path d="M134.17,257.10 H137.56 V268.40 H134.17Z"/><path d="M137.56,257.10 H140.95 V268.40 H137.56Z"/><path d="M140.95,257.10 H144.35 V268.40 H140.95Z"/><path d="M144.35,257.10 H147.74 V268.40 H144.35Z"/><path d="M147.74,257.10 H151.14 V268.40 H147.74Z"/><path d="M151.14,257.10 H154.53 V268.40 H151.14Z"/><path d="M154.53,257.10 H157.92 V268.40 H154.53Z"/><path d="M157.92,257.10 H161.32 V268.40 H157.92Z"/><path d="M161.32,257.10 H164.71 V268.40 H161.32Z"/><path d="M164.71,257.10 H168.11 V268.40 H164.71Z"/><path d="M168.11,257.10 H171.50 V268.40 H168.11Z"/><path d="M171.50,257.10 H174.89 V268.40 H171.50Z"/><path d="M174.89,257.10 H178.29 V268.40 H174.89Z"/><path d="M178.29,257.10 H181.68 V268.40 H178.29Z"/><path d="M181.68,257.10 H185.08 V268.40 H181.68Z"/><path d="M185.08,257.10 H188.47 V268.40 H185.08Z"/><path d="M188.47,257.10 H191.86 V268.40 H188.47Z"/><path d="M191.86,257.10 H195.26 V268.40 H191.86Z"/><path d="M195.26,257.10 H198.65 V268.40 H195.26Z"/><path d="M198.65,257.10 H202.05 V268.40 H198.65Z"/><path d="M202.05,257.10 H205.44 V268.40 H202.05Z"/><path d="M205.44,257.10 H208.83 V268.40 H205.44Z"/><path d="M208.83,257.10 H212.23 V268.40 H208.83Z"/><path d="M212.23,257.10 H215.62 V268.40 H212.23Z"/><path d="M215.62,257.10 H219.02 V268.40 H215.62Z"/><path d="M219.02,257.10 H222.41 V268.40 H219.02Z"/><path d="M222.41,257.10 H225.80 V268.40 H222.41Z"/><path d="M225.80,257.10 H229.20 V268.40 H225.80Z"/><path d="M229.20,257.10 H232.59 V268.40 H229.20Z"/><path d="M232.59,257.10 H235.98 V268.40 H232.59Z"/><path d="M235.98,257.10 H239.38 V268.40 H235.98Z"/><path d="M239.38,257.10 H242.77 V268.40 H239.38Z"/><path d="M242.77,257.10 H246.17 V268.40 H242.77Z"/><path d="M246.17,257.10 H249.56 V268.40 H246.17Z"/><path d="M249.56,257.10 H252.95 V268.40 H249.56Z"/><path d="M252.95,257.10 H256.35 V268.40 H252.95Z"/><path d="M256.35,257.10 H259.74 V268.40 H256.35Z"/><path d="M259.74,257.10 H263.14 V268.40 H259.74Z"/><path d="M263.14,257.10 H266.53 V268.40 H263.14Z"/><path d="M266.53,257.10 H269.92 V268.40 H266.53Z"/><path d="M269.92,257.10 H273.32 V268.40 H269.92Z"/><path d="M273.32,257.10 H276.71 V268.40 H273.32Z"/><path d="M276.71,257.10 H280.11 V268.40 H276.71Z"/><path d="M280.11,257.10 H283.50 V268.40 H280.11Z"/><path d="M283.50,257.10 H286.89 V268.40 H283.50Z"/><path d="M286.89,257.10 H290.29 V268.40 H286.89Z"/><path d="M290.29,257.10 H293.68 V268.40 H290.29Z"/><path d="M293.68,257.10 H297.08 V268.40 H293.68Z"/><path d="M297.08,257.10 H300.47 V268.40 H297.08Z"/><path d="M300.47,257.10 H303.86 V268.40 H300.47Z"/><path d="M303.86,257.10 H307.26 V268.40 H303.86Z"/><path d="M307.26,257.10 H310.65 V268.40 H307.26Z"/><path d="M310.65,257.10 H314.05 V268.40 H310.65Z"/><path d="M314.05,257.10 H317.44 V268.40 H314.05Z"/><path d="M317.44,257.10 H320.83 V268.40 H317.44Z"/><path d="M320.83,257.10 H324.23 V268.40 H320.83Z"/><path d="M324.23,257.10 H327.62 V268.40 H324.23Z"/><path d="M327.62,257.10 H331.02 V268.40 H327.62Z"/><path d="M331.02,257.10 H334.41 V268.40 H331.02Z"/><path d="M334.41,257.10 H337.80 V268.40 H334.41Z"/><path d="M337.80,257.10 H341.20 V268.40 H337.80Z"/><path d="M341.20,257.10 H344.59 V268.40 H341.20Z"/><path d="M344.59,257.10 H347.98 V268.40 H344.59Z"/><path d="M347.98,257.10 H351.38 V268.40 H347.98Z"/><path d="M351.38,257.10 H354.77 V268.40 H351.38Z"/><path d="M354.77,257.10 H358.17 V268.40 H354.77Z"/><path d="M358.17,257.10 H361.56 V268.40 H358.17Z"/><path d="M361.56,257.10 H364.95 V268.40 H361.56Z"/><path d="M364.95,257.10 H368.35 V268.40 H364.95Z"/><path d="M368.35,257.10 H371.74 V268.40 H368.35Z"/><path d="M371.74,257.10 H375.14 V268.40 H371.74Z"/><path d="M375.14,257.10 H378.53 V268.40 H375.14Z"/><path d="M378.53,257.10 H381.92 V268.40 H378.53Z"/><path d="M381.92,257.10 H385.32 V268.40 H381.92Z"/><path d="M385.32,257.10 H388.71 V268.40 H385.32Z"/><path d="M388.71,257.10 H392.11 V268.40 H388.71Z"/><path d="M392.11,257.10 H395.50 V268.40 H392.11Z"/></g>
<rect x="59.50" y="257.10" width="336.00" height="11.30" fill="#ccffcc" fill-opacity="0.55"/>
<g fill="#80cc80"><path d="M242.77,257.10 H246.17 V268.40 H242.77Z"/><path d="M246.17,257.10 H249.56 V268.40 H246.17Z"/><path d="M249.56,257.10 H252.95 V268.40 H249.56Z"/><path d="M252.95,257.10 H256.35 V268.40 H252.95Z"/><path d="M256.35,257.10 H259.74 V268.40 H256.35Z"/><path d="M259.74,257.10 H263.14 V268.40 H259.74Z"/><path d="M263.14,257.10 H266.53 V268.40 H263.14Z"/><path d="M266.53,257.10 H269.92 V268.40 H266.53Z"/><path d="M269.92,257.10 H273.32 V268.40 H269.92Z"/><path d="M273.32,257.10 H276.71 V268.40 H273.32Z"/><path d="M276.71,257.10 H280.11 V268.40 H276.71Z"/><path d="M280.11,257.10 H283.50 V268.40 H280.11Z"/><path d="M283.50,257.10 H286.89 V268.40 H283.50Z"/><path d="M286.89,257.10 H290.29 V268.40 H286.89Z"/><path d="M290.29,257.10 H293.68 V268.40 H290.29Z"/><path d="M293.68,257.10 H297.08 V268.40 H293.68Z"/><path d="M297.08,257.10 H300.47 V268.40 H297.08Z"/><path d="M300.47,257.10 H303.86 V268.40 H300.47Z"/><path d="M303.86,257.10 H307.26 V268.40 H303.86Z"/><path d="M307.26,257.10 H310.65 V268.40 H307.26Z"/><path d="M310.65,257.10 H314.05 V268.40 H310.65Z"/><path d="M314.05,257.10 H317.44 V268.40 H314.05Z"/><path d="M317.44,257.10 H320.83 V268.40 H317.44Z"/><path d="M320.83,257.10 H324.23 V268.40 H320.83Z"/><path d="M324.23,257.10 H327.62 V268.40 H324.23Z"/><path d="M327.62,257.10 H331.02 V268.40 H327.62Z"/><path d="M331.02,257.10 H334.41 V268.40 H331.02Z"/><path d="M334.41,257.10 H337.80 V268.40 H334.41Z"/><path d="M337.80,257.10 H341.20 V268.40 H337.80Z"/><path d="M341.20,257.10 H344.59 V268.40 H341.20Z"/><path d="M344.59,257.10 H347.98 V268.40 H344.59Z"/><path d="M347.98,257.10 H351.38 V268.40 H347.98Z"/><path d="M351.38,257.10 H354.77 V268.40 H351.38Z"/><path d="M354.77,257.10 H358.17 V268.40 H354.77Z"/><path d="M358.17,257.10 H361.56 V268.40 H358.17Z"/><path d="M361.56,257.10 H364.95 V268.40 H361.56Z"/><path d="M364.95,257.10 H368.35 V268.40 H364.95Z"/></g>
<rect x="242.77" y="257.10" width="125.58" height="11.30" fill="#80cc80" fill-opacity="0.55"/>
<g stroke="#f00" stroke-width="1.6" fill="none"><path d="M72.4,52.4 V62.0"/><path d="M71.2,52.7 h2.4" stroke-width="1.1"/><path d="M71.2,61.7 h2.4" stroke-width="1.1"/><circle cx="72.4" cy="57.2" r="1.3" fill="#f00" stroke="none"/><path d="M98.3,76.3 V85.1"/><path d="M97.1,76.6 h2.4" stroke-width="1.1"/><path d="M97.1,84.8 h2.4" stroke-width="1.1"/><circle cx="98.3" cy="80.7" r="1.3" fill="#f00" stroke="none"/><path d="M124.1,97.3 V107.1"/><path d="M122.9,97.6 h2.4" stroke-width="1.1"/><path d="M122.9,106.8 h2.4" stroke-width="1.1"/><circle cx="124.1" cy="102.2" r="1.3" fill="#f00" stroke="none"/><path d="M150.0,100.5 V110.0"/><path d="M148.8,100.8 h2.4" stroke-width="1.1"/><path d="M148.8,109.7 h2.4" stroke-width="1.1"/><circle cx="150.0" cy="105.2" r="1.3" fill="#f00" stroke="none"/><path d="M175.8,110.2 V120.2"/><path d="M174.6,110.5 h2.4" stroke-width="1.1"/><path d="M174.6,119.9 h2.4" stroke-width="1.1"/><circle cx="175.8" cy="115.2" r="1.3" fill="#f00" stroke="none"/><path d="M201.7,114.3 V125.6"/><path d="M200.5,114.6 h2.4" stroke-width="1.1"/><path d="M200.5,125.3 h2.4" stroke-width="1.1"/><circle cx="201.7" cy="119.9" r="1.3" fill="#f00" stroke="none"/><path d="M227.5,118.2 V130.7"/><path d="M226.3,118.5 h2.4" stroke-width="1.1"/><path d="M226.3,130.4 h2.4" stroke-width="1.1"/><circle cx="227.5" cy="124.4" r="1.3" fill="#f00" stroke="none"/><path d="M253.3,127.9 V141.2"/><path d="M252.1,128.2 h2.4" stroke-width="1.1"/><path d="M252.1,140.9 h2.4" stroke-width="1.1"/><circle cx="253.3" cy="134.6" r="1.3" fill="#f00" stroke="none"/><path d="M279.2,127.7 V142.5"/><path d="M278.0,128.0 h2.4" stroke-width="1.1"/><path d="M278.0,142.2 h2.4" stroke-width="1.1"/><circle cx="279.2" cy="135.1" r="1.3" fill="#f00" stroke="none"/><path d="M305.0,130.4 V144.7"/><path d="M303.8,130.7 h2.4" stroke-width="1.1"/><path d="M303.8,144.4 h2.4" stroke-width="1.1"/><circle cx="305.0" cy="137.6" r="1.3" fill="#f00" stroke="none"/><path d="M330.9,138.9 V156.5"/><path d="M329.7,139.2 h2.4" stroke-width="1.1"/><path d="M329.7,156.2 h2.4" stroke-width="1.1"/><circle cx="330.9" cy="147.7" r="1.3" fill="#f00" stroke="none"/><path d="M356.7,133.1 V151.5"/><path d="M355.5,133.4 h2.4" stroke-width="1.1"/><path d="M355.5,151.2 h2.4" stroke-width="1.1"/><circle cx="356.7" cy="142.3" r="1.3" fill="#f00" stroke="none"/><path d="M382.6,161.3 V184.4"/><path d="M381.4,161.6 h2.4" stroke-width="1.1"/><path d="M381.4,184.1 h2.4" stroke-width="1.1"/><circle cx="382.6" cy="172.9" r="1.3" fill="#f00" stroke="none"/><path d="M72.4,197.3 V204.2"/><path d="M71.2,197.6 h2.4" stroke-width="1.1"/><path d="M71.2,203.9 h2.4" stroke-width="1.1"/><circle cx="72.4" cy="200.8" r="1.3" fill="#f00" stroke="none"/><path d="M98.3,215.1 V222.9"/><path d="M97.1,215.4 h2.4" stroke-width="1.1"/><path d="M97.1,222.6 h2.4" stroke-width="1.1"/><circle cx="98.3" cy="219.0" r="1.3" fill="#f00" stroke="none"/><path d="M124.1,230.7 V239.2"/><path d="M122.9,231.0 h2.4" stroke-width="1.1"/><path d="M122.9,238.9 h2.4" stroke-width="1.1"/><circle cx="124.1" cy="234.9" r="1.3" fill="#f00" stroke="none"/><path d="M150.0,233.4 V241.7"/><path d="M148.8,233.7 h2.4" stroke-width="1.1"/><path d="M148.8,241.4 h2.4" stroke-width="1.1"/><circle cx="150.0" cy="237.6" r="1.3" fill="#f00" stroke="none"/><path d="M175.8,233.5 V242.7"/><path d="M174.6,233.8 h2.4" stroke-width="1.1"/><path d="M174.6,242.4 h2.4" stroke-width="1.1"/><circle cx="175.8" cy="238.1" r="1.3" fill="#f00" stroke="none"/><path d="M201.7,238.7 V250.5"/><path d="M200.5,239.0 h2.4" stroke-width="1.1"/><path d="M200.5,250.2 h2.4" stroke-width="1.1"/><circle cx="201.7" cy="244.6" r="1.3" fill="#f00" stroke="none"/><path d="M227.5,250.2 V262.9"/><path d="M226.3,250.5 h2.4" stroke-width="1.1"/><path d="M226.3,262.6 h2.4" stroke-width="1.1"/><circle cx="227.5" cy="256.5" r="1.3" fill="#f00" stroke="none"/><path d="M253.3,260.3 V276.6"/><path d="M252.1,260.6 h2.4" stroke-width="1.1"/><path d="M252.1,276.3 h2.4" stroke-width="1.1"/><circle cx="253.3" cy="268.5" r="1.3" fill="#f00" stroke="none"/><path d="M279.2,252.4 V270.7"/><path d="M278.0,252.7 h2.4" stroke-width="1.1"/><path d="M278.0,270.4 h2.4" stroke-width="1.1"/><circle cx="279.2" cy="261.6" r="1.3" fill="#f00" stroke="none"/><path d="M305.0,247.8 V265.9"/><path d="M303.8,248.1 h2.4" stroke-width="1.1"/><path d="M303.8,265.6 h2.4" stroke-width="1.1"/><circle cx="305.0" cy="256.9" r="1.3" fill="#f00" stroke="none"/><path d="M330.9,260.5 V284.6"/><path d="M329.7,260.8 h2.4" stroke-width="1.1"/><path d="M329.7,284.3 h2.4" stroke-width="1.1"/><circle cx="330.9" cy="272.6" r="1.3" fill="#f00" stroke="none"/><path d="M356.7,241.6 V265.4"/><path d="M355.5,241.9 h2.4" stroke-width="1.1"/><path d="M355.5,265.1 h2.4" stroke-width="1.1"/><circle cx="356.7" cy="253.5" r="1.3" fill="#f00" stroke="none"/><path d="M382.6,279.6 V307.3"/><path d="M381.4,279.9 h2.4" stroke-width="1.1"/><circle cx="382.6" cy="295.7" r="1.3" fill="#f00" stroke="none"/></g>
<rect x="353.6" y="37.6" width="29.3" height="5.2" fill="#ccccff"/>
<rect x="353.6" y="48.4" width="29.3" height="5.2" fill="#ccffcc"/>
<g stroke="#f00" stroke-width="1.8"><path d="M353.8,61.9 H382.6"/><path d="M354.1,60.8v2.2M382.3,60.8v2.2" stroke-width="1.2"/></g><circle cx="368.1" cy="61.9" r="1.35" fill="#f00"/>
<rect x="59.5" y="32.5" width="336.0" height="274.8" fill="none" stroke="#626262" stroke-width="1"/>
<path d="M395.5,32.0 V307.8" stroke="#444" stroke-width="1"/>
<path d="M59.5,307.3 v-2.4 M59.5,32.5 v2.4 M111.2,307.3 v-2.4 M111.2,32.5 v2.4 M162.9,307.3 v-2.4 M162.9,32.5 v2.4 M214.6,307.3 v-2.4 M214.6,32.5 v2.4 M266.3,307.3 v-2.4 M266.3,32.5 v2.4 M318.0,307.3 v-2.4 M318.0,32.5 v2.4 M369.7,307.3 v-2.4 M369.7,32.5 v2.4 M59.5,307.3 h2.4 M395.5,307.3 h-2.4 M59.5,268.0 h2.4 M395.5,268.0 h-2.4 M59.5,228.8 h2.4 M395.5,228.8 h-2.4 M59.5,189.5 h2.4 M395.5,189.5 h-2.4 M59.5,150.3 h2.4 M395.5,150.3 h-2.4 M59.5,111.0 h2.4 M395.5,111.0 h-2.4 M59.5,71.8 h2.4 M395.5,71.8 h-2.4 M59.5,32.5 h2.4 M395.5,32.5 h-2.4" stroke="#8a8a8a" stroke-width="1" fill="none"/>
<g font-family="'Liberation Serif', serif" font-size="15" fill="#303030" style="filter:grayscale(1)"><text x="53.2" y="311.2" textLength="25.4" lengthAdjust="spacingAndGlyphs" text-anchor="end" font-size="15.4">2360</text>
<text x="53.2" y="271.9" textLength="25.4" lengthAdjust="spacingAndGlyphs" text-anchor="end" font-size="15.4">2380</text>
<text x="53.2" y="232.7" textLength="25.4" lengthAdjust="spacingAndGlyphs" text-anchor="end" font-size="15.4">2400</text>
<text x="53.2" y="193.4" textLength="25.4" lengthAdjust="spacingAndGlyphs" text-anchor="end" font-size="15.4">2420</text>
<text x="53.2" y="154.2" textLength="25.4" lengthAdjust="spacingAndGlyphs" text-anchor="end" font-size="15.4">2440</text>
<text x="53.2" y="114.9" textLength="25.4" lengthAdjust="spacingAndGlyphs" text-anchor="end" font-size="15.4">2460</text>
<text x="53.2" y="75.7" textLength="25.4" lengthAdjust="spacingAndGlyphs" text-anchor="end" font-size="15.4">2480</text>
<text x="53.2" y="36.4" textLength="25.4" lengthAdjust="spacingAndGlyphs" text-anchor="end" font-size="15.4">2500</text>
<text x="61.3" y="322.3" textLength="6.0" lengthAdjust="spacingAndGlyphs" text-anchor="middle" font-size="15.4">6</text>
<text x="113.0" y="322.3" textLength="6.0" lengthAdjust="spacingAndGlyphs" text-anchor="middle" font-size="15.4">8</text>
<text x="165.1" y="322.3" textLength="13.4" lengthAdjust="spacingAndGlyphs" text-anchor="middle" font-size="15.4">10</text>
<text x="216.8" y="322.3" textLength="13.4" lengthAdjust="spacingAndGlyphs" text-anchor="middle" font-size="15.4">12</text>
<text x="268.5" y="322.3" textLength="13.4" lengthAdjust="spacingAndGlyphs" text-anchor="middle" font-size="15.4">14</text>
<text x="320.2" y="322.3" textLength="13.4" lengthAdjust="spacingAndGlyphs" text-anchor="middle" font-size="15.4">16</text>
<text x="371.9" y="322.3" textLength="13.4" lengthAdjust="spacingAndGlyphs" text-anchor="middle" font-size="15.4">18</text>
<text x="91.3" y="20.2" textLength="5.6" lengthAdjust="spacingAndGlyphs">0</text>
<text x="97.3" y="17.0" font-size="11.5">+</text>
<text x="108.8" y="20.2" textLength="9.8" lengthAdjust="spacingAndGlyphs" font-style="italic">D</text>
<text x="119.3" y="16.8" font-size="10.5">*</text>
<text x="119.7" y="22.9" font-style="italic" font-size="9.6">s</text>
<text x="124.6" y="20.2" textLength="33.0" lengthAdjust="spacingAndGlyphs">(2317)</text>
<text x="164.4" y="20.2" textLength="42.6" lengthAdjust="spacingAndGlyphs">channel</text>
<text x="219.6" y="20.2" textLength="10.0" lengthAdjust="spacingAndGlyphs" font-style="italic">m</text>
<text x="229.9" y="21.1" textLength="5.2" lengthAdjust="spacingAndGlyphs" font-style="italic" font-size="8.6">π</text>
<text x="241.8" y="20.2" textLength="9.0" lengthAdjust="spacingAndGlyphs">=</text>
<text x="255.8" y="20.2" textLength="18.6" lengthAdjust="spacingAndGlyphs">290</text>
<text x="279.4" y="20.2" textLength="25.4" lengthAdjust="spacingAndGlyphs">MeV</text>
<text x="317.8" y="20.2" textLength="8.2" lengthAdjust="spacingAndGlyphs" font-style="italic">L</text>
<text x="332.2" y="20.2" textLength="9.0" lengthAdjust="spacingAndGlyphs">=</text>
<text x="344.5" y="20.2" textLength="12.5" lengthAdjust="spacingAndGlyphs">64</text>
<text x="357.0" y="20.2" textLength="7.0" lengthAdjust="spacingAndGlyphs" font-style="italic">a</text>
<text x="218.1" y="338.2" textLength="4.6" lengthAdjust="spacingAndGlyphs" font-style="italic" font-size="15.4">t</text>
<text x="222.6" y="338.6" textLength="6.6" lengthAdjust="spacingAndGlyphs" font-style="italic" font-size="16.5">/</text>
<text x="229.9" y="338.2" textLength="7.2" lengthAdjust="spacingAndGlyphs" font-style="italic" font-size="15.4">a</text>
<text transform="translate(12,207.4) rotate(-90)" font-size="13.6" textLength="38.4" lengthAdjust="spacingAndGlyphs">Energy</text>
<text transform="translate(12,160.5) rotate(-90)" font-size="13.6" textLength="28.8" lengthAdjust="spacingAndGlyphs">[MeV]</text>
<text x="296.8" y="44.0" textLength="5.4" lengthAdjust="spacingAndGlyphs">2</text>
<text x="306.5" y="44.0" textLength="25.8" lengthAdjust="spacingAndGlyphs">exp.</text>
<text x="336.4" y="44.0" textLength="10.8" lengthAdjust="spacingAndGlyphs">fit</text>
<text x="297.4" y="54.8" textLength="4.6" lengthAdjust="spacingAndGlyphs">1</text>
<text x="306.5" y="54.8" textLength="25.8" lengthAdjust="spacingAndGlyphs">exp.</text>
<text x="336.4" y="54.8" textLength="10.8" lengthAdjust="spacingAndGlyphs">fit</text>
<text x="299.4" y="65.6" textLength="15.8" lengthAdjust="spacingAndGlyphs">eff.</text>
<text x="320.5" y="65.6" textLength="26.8" lengthAdjust="spacingAndGlyphs">mass</text></g>

</svg></body></html>
